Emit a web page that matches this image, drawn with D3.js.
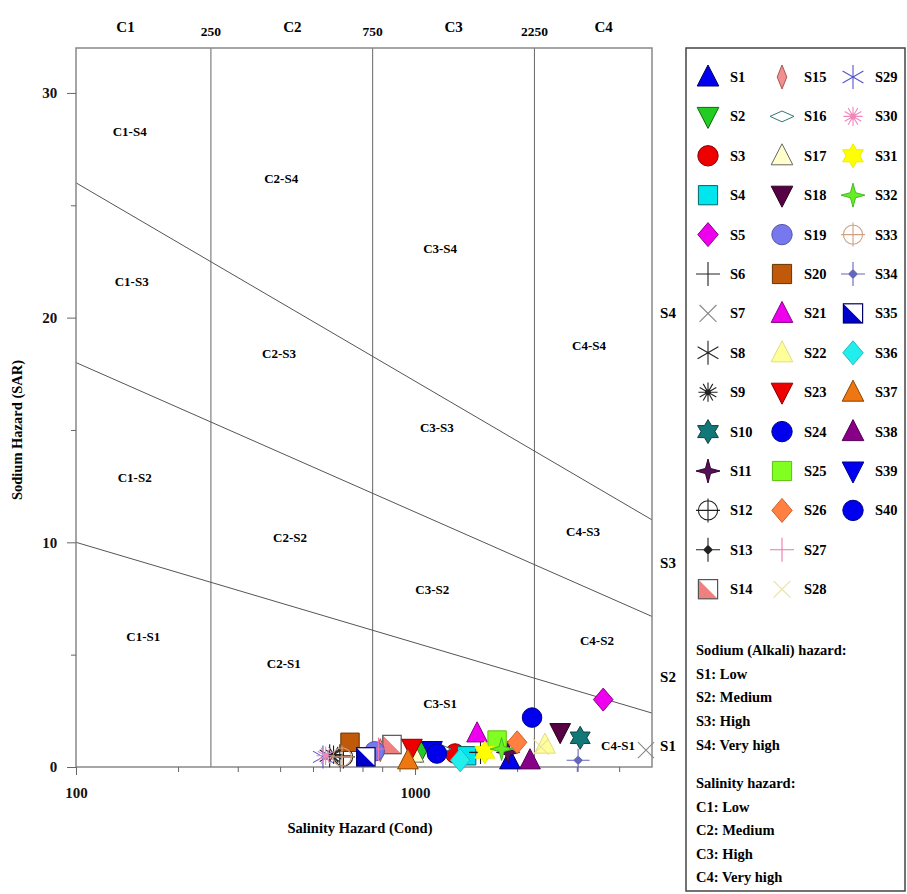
<!DOCTYPE html>
<html><head><meta charset="utf-8">
<script src="https://cdn.jsdelivr.net/npm/d3@7"></script>
<style>body{margin:0;background:#fff}svg{font-family:"Liberation Serif","DejaVu Serif",serif;font-weight:bold}</style>
</head><body><svg id="c" width="907" height="894"></svg>
<script>
// ---- data ----
const samples = ["S1","S2","S3","S4","S5","S6","S7","S8","S9","S10","S11","S12","S13","S14","S15","S16","S17","S18","S19","S20",
"S21","S22","S23","S24","S25","S26","S27","S28","S29","S30","S31","S32","S33","S34","S35","S36","S37","S38","S39","S40"];
const ec  = [1906,1040,1312,1420,3590,600,4800,560,575,3070,1880,615,1560,855,790,1180,990,2680,760,643,
             1524,2417,979,2214,1746,2001,780,2350,535,545,1607,1800,609,3027,716,1359,953,2183,1122,1160];
const sar = [0.3,0.7,0.6,0.5,3.0,0.5,0.75,0.5,0.55,1.3,0.65,0.45,0.65,1.0,0.75,0.8,0.6,1.55,0.7,1.1,
             1.5,1.0,0.85,2.2,1.2,1.1,0.8,0.9,0.45,0.5,0.65,0.8,0.45,0.3,0.45,0.3,0.3,0.3,0.75,0.6];
const shapes = ["triUp","triDown","circle","square","diamond","plus","x","asterisk","burst","hexagram",
 "star4","circlePlus","plusDot","halfSquare","thinDiamond","flatDiamond","triUp","triDown","circle","square",
 "triUp","triUp","triDown","circle","square","diamond","plus","x","asterisk","burst",
 "hexagram","star4","circlePlus","plusDot","halfSquare","diamond","triUp","triUp","triDown","circle"];
const fills = ["#0000ee","#22cc22","#ee0000","#00e5ee","#ee00ee","none","none","none","none","#117777",
 "#551155","none","none","#f08080","#f09090","none","#ffffcc","#550044","#7777ee","#c05a0a",
 "#ee00ee","#ffff99","#ee0000","#0000ee","#80ff20","#ff8040","none","none","none","none",
 "#ffff00","#66ee22","none","none","#0000cc","#22eeee","#ee7711","#880088","#0000ee","#0000ee"];
const strokes = ["#000066","#116611","#880000","#006666","#880088","#222","#888","#222","#222","#114444",
 "#330033","#222","#222","#555","#aa5555","#337777","#666","#330022","#5555aa","#663300",
 "#880088","#dddd88","#880000","#000088","#60c010","#cc6030","#ee77aa","#e8e0a0","#5555cc","#ee88bb",
 "#eeee00","#44bb22","#d0a080","#6666bb","#000066","#22bbbb","#884400","#550055","#000088","#000088"];
const boundaries = [ [[100,10],[5000,2.4]], [[100,18],[5000,6.7]], [[100,26],[5000,11]] ];
const classEC = [250,750,2250];
const classTop = ["C1","C2","C3","C4"], classTopEC=[140,435,1300,3600];
const regionLabels = ["C1-S4","C1-S3","C1-S2","C1-S1","C2-S4","C2-S3","C2-S2","C2-S1","C3-S4","C3-S3","C3-S2","C3-S1","C4-S4","C4-S3","C4-S2","C4-S1"];
const regionEC  = [144,146,149,158,403,397,428,410,1186,1160,1124,1186,3260,3130,3440,3970];
const regionSAR = [28.3,21.6,12.9,5.8,26.2,18.4,10.2,4.6,23.1,15.1,7.9,2.85,18.75,10.5,5.65,0.95];
const sideLabels = ["S4","S3","S2","S1"], sideSAR=[20.2,9.1,4.0,0.95];
const yTicks=[0,10,20,30], yMinor=[5,15,25];
const xTickLabels=[100,1000];
const legendNotes=["Sodium (Alkali) hazard:","S1: Low","S2: Medium","S3: High","S4: Very high","","Salinity hazard:","C1: Low","C2: Medium","C3: High","C4: Very high"];

// ---- layout ----
const svg=d3.select("#c");
const L=76,R=652,T=48,B=767;
const x=d3.scaleLog().domain([100,5000]).range([L,R]);
const y=d3.scaleLinear().domain([0,32]).range([B,T]);

classEC.forEach(v=>svg.append("line").attr("x1",x(v)).attr("x2",x(v)).attr("y1",T).attr("y2",B).attr("stroke","#666").attr("stroke-width",1));
const line=d3.line().x(d=>x(d[0])).y(d=>y(d[1]));
boundaries.forEach(b=>svg.append("path").attr("d",line(b)).attr("fill","none").attr("stroke","#555").attr("stroke-width",1));
svg.append("rect").attr("x",L).attr("y",T).attr("width",R-L).attr("height",B-T).attr("fill","none").attr("stroke","#888").attr("stroke-width",1.5);

const xAx=svg.append("g").attr("transform",`translate(0,${B})`).call(d3.axisBottom(x).tickValues(xTickLabels).tickFormat(d3.format("d")).tickSize(8));
const xMin=svg.append("g").attr("transform",`translate(0,${B})`).call(d3.axisBottom(x).tickValues([200,300,400,500,600,700,800,900,2000,3000,4000]).tickFormat("").tickSize(5));
const yAx=svg.append("g").attr("transform",`translate(${L},0)`).call(d3.axisLeft(y).tickValues(yTicks).tickSize(9).tickFormat(d3.format("d")));
const yMn=svg.append("g").attr("transform",`translate(${L},0)`).call(d3.axisLeft(y).tickValues(yMinor).tickSize(5).tickFormat(""));
[xAx,xMin,yAx,yMn].forEach(g=>{g.select(".domain").remove();g.selectAll("line").attr("stroke","#666");g.selectAll("text").attr("font-family","Liberation Serif").attr("font-weight","bold").attr("font-size",15).attr("fill","#111");});
xAx.selectAll("text").attr("dy","1.3em");
yAx.selectAll("text").attr("dx","-0.45em");

svg.append("text").attr("x",360).attr("y",833).attr("text-anchor","middle").attr("font-size",14.5).text("Salinity Hazard (Cond)");
svg.append("text").attr("transform","translate(22,430) rotate(-90)").attr("text-anchor","middle").attr("font-size",14.5).text("Sodium Hazard (SAR)");

classTop.forEach((t,i)=>svg.append("text").attr("x",x(classTopEC[i])).attr("y",32).attr("text-anchor","middle").attr("font-size",15).text(t));
classEC.forEach(v=>svg.append("text").attr("x",x(v)).attr("y",36).attr("text-anchor","middle").attr("font-size",13.5).text(v));
regionLabels.forEach((t,i)=>svg.append("text").attr("x",x(regionEC[i])).attr("y",y(regionSAR[i])).attr("dy","0.35em").attr("text-anchor","middle").attr("font-size",13).text(t));
sideLabels.forEach((t,i)=>svg.append("text").attr("x",668).attr("y",y(sideSAR[i])).attr("dy","0.35em").attr("text-anchor","middle").attr("font-size",15).text(t));

function sym(type,r){
  const p=d3.path();
  const s=r;
  switch(type){
    case "triUp": p.moveTo(0,-s);p.lineTo(s*0.9,s*0.75);p.lineTo(-s*0.9,s*0.75);p.closePath();break;
    case "triDown": p.moveTo(0,s);p.lineTo(s*0.9,-s*0.75);p.lineTo(-s*0.9,-s*0.75);p.closePath();break;
    case "circle": p.moveTo(s*0.85,0);p.arc(0,0,s*0.85,0,2*Math.PI);break;
    case "square": p.rect(-s*0.8,-s*0.8,s*1.6,s*1.6);break;
    case "diamond": p.moveTo(0,-s);p.lineTo(s*0.85,0);p.lineTo(0,s);p.lineTo(-s*0.85,0);p.closePath();break;
    case "thinDiamond": p.moveTo(0,-s);p.lineTo(s*0.4,0);p.lineTo(0,s);p.lineTo(-s*0.4,0);p.closePath();break;
    case "flatDiamond": p.moveTo(0,-s*0.45);p.lineTo(s,0);p.lineTo(0,s*0.45);p.lineTo(-s,0);p.closePath();break;
    case "plus": p.moveTo(-s,0);p.lineTo(s,0);p.moveTo(0,-s);p.lineTo(0,s);break;
    case "x": p.moveTo(-s*0.7,-s*0.7);p.lineTo(s*0.7,s*0.7);p.moveTo(s*0.7,-s*0.7);p.lineTo(-s*0.7,s*0.7);break;
    case "asterisk": for(let a=0;a<3;a++){const t=a*Math.PI/3+Math.PI/2;p.moveTo(Math.cos(t)*s,Math.sin(t)*s);p.lineTo(-Math.cos(t)*s,-Math.sin(t)*s);}break;
    case "burst": for(let a=0;a<6;a++){const t=a*Math.PI/6;p.moveTo(Math.cos(t)*s*0.8,Math.sin(t)*s*0.8);p.lineTo(-Math.cos(t)*s*0.8,-Math.sin(t)*s*0.8);}p.moveTo(2.5,0);p.arc(0,0,2.5,0,2*Math.PI);break;
    case "hexagram": {const a=[];for(let k=0;k<12;k++){const rr=k%2?s*0.58:s;const t=k*Math.PI/6-Math.PI/2;a.push([Math.cos(t)*rr,Math.sin(t)*rr]);}p.moveTo(...a[0]);a.slice(1).forEach(q=>p.lineTo(...q));p.closePath();break;}
    case "star4": {const a=[];for(let k=0;k<8;k++){const rr=k%2?s*0.3:s;const t=k*Math.PI/4-Math.PI/2;a.push([Math.cos(t)*rr,Math.sin(t)*rr]);}p.moveTo(...a[0]);a.slice(1).forEach(q=>p.lineTo(...q));p.closePath();break;}
    case "circlePlus": p.moveTo(s*0.8,0);p.arc(0,0,s*0.8,0,2*Math.PI);p.moveTo(-s,0);p.lineTo(s,0);p.moveTo(0,-s);p.lineTo(0,s);break;
    case "plusDot": p.moveTo(-s,0);p.lineTo(s,0);p.moveTo(0,-s);p.lineTo(0,s);p.moveTo(-s*0.35,0);p.lineTo(0,-s*0.35);p.lineTo(s*0.35,0);p.lineTo(0,s*0.35);p.closePath();break;
  }
  return p.toString();
}
function drawMarker(g,i,cx,cy,r){
  const t=shapes[i];
  const lineOnly=["plus","x","asterisk","burst","circlePlus","plusDot"].includes(t);
  const el=g.append("g").attr("transform",`translate(${cx},${cy})`);
  if(t==="halfSquare"){
    el.append("rect").attr("x",-r*0.8).attr("y",-r*0.8).attr("width",r*1.6).attr("height",r*1.6).attr("fill","#fff");
    el.append("path").attr("d",`M${-r*0.8},${-r*0.8}L${r*0.8},${r*0.8}L${-r*0.8},${r*0.8}Z`).attr("fill",fills[i]);
    el.append("rect").attr("x",-r*0.8).attr("y",-r*0.8).attr("width",r*1.6).attr("height",r*1.6).attr("fill","none").attr("stroke",strokes[i]).attr("stroke-width",1.2);
    return;
  }
  el.append("path").attr("d",sym(t,r))
    .attr("fill", lineOnly? (t==="plusDot"||t==="burst"? strokes[i]:"none") : (fills[i]==="none"?"#fff":fills[i]))
    .attr("fill-opacity", (t==="circlePlus")?0:1)
    .attr("stroke", strokes[i]).attr("stroke-width", lineOnly?1.1:1);
}

const pg=svg.append("g");
ec.forEach((v,i)=>drawMarker(pg,i,x(v),y(sar[i]),11.5));

svg.append("rect").attr("x",686).attr("y",48).attr("width",219).attr("height",843).attr("fill","none").attr("stroke","#444").attr("stroke-width",1.5);
const colX=[708,782,853], rowY0=77, rowDY=39.4;
samples.forEach((s,i)=>{
  const c=Math.floor(i/14), r=i%14;
  const lx=colX[c], ly=rowY0+r*rowDY;
  drawMarker(svg,i,lx,ly,12);
  svg.append("text").attr("x",lx+22).attr("y",ly).attr("dy","0.35em").attr("font-size",14.5).text(s);
});
legendNotes.forEach((t,i)=>{
  const yy = i<5 ? 650+i*23.7 : 783+(i-6)*23.5;
  if(t) svg.append("text").attr("x",696).attr("y",yy).attr("dy","0.35em").attr("font-size",14.5).text(t);
});
</script></body></html>
